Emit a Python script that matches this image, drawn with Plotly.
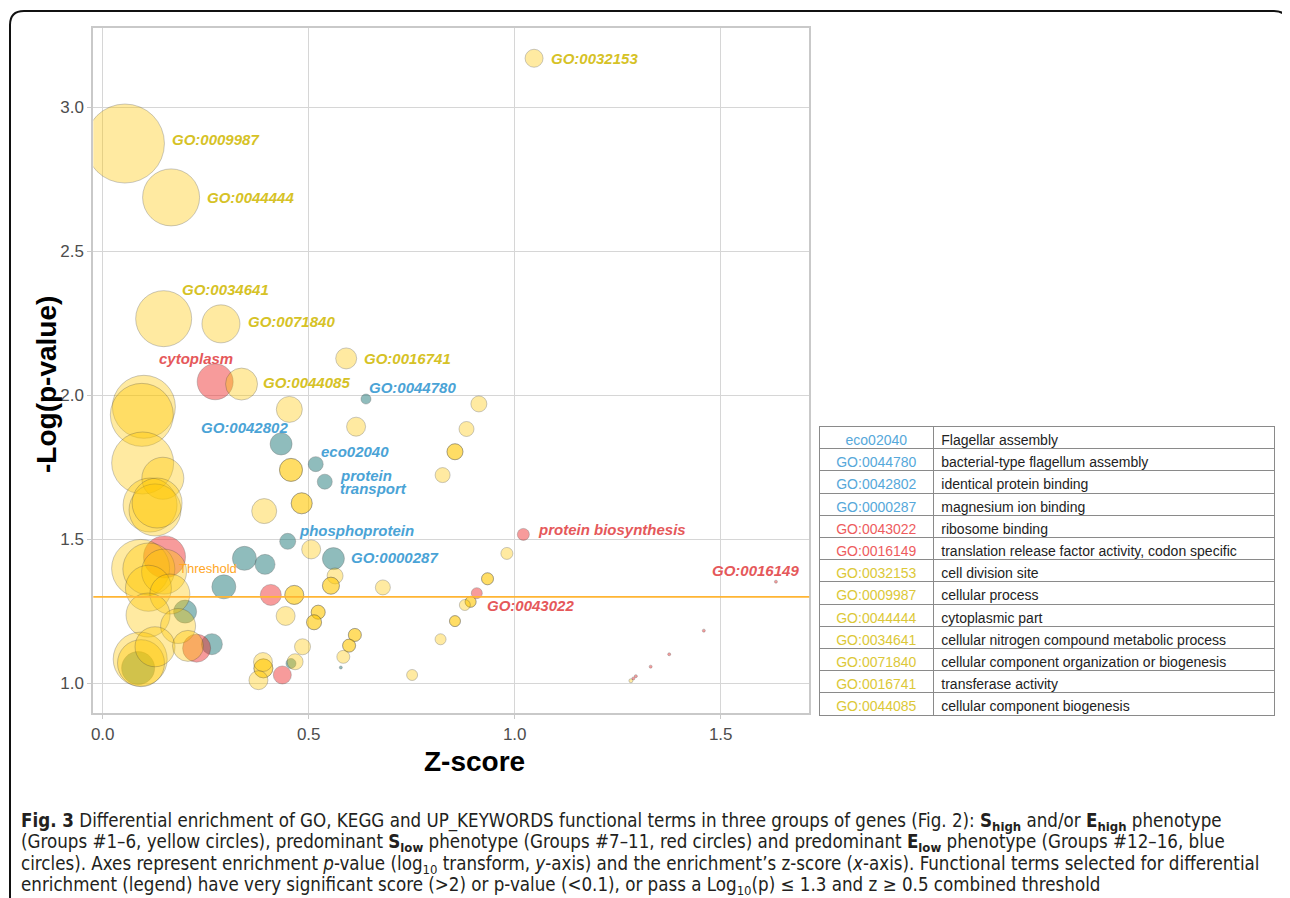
import plotly.graph_objects as go

# ---------------- data ----------------
# Yellow group (S_high and/or E_high phenotype, groups #1-6)
yellow_z = [1.047, 0.054, 0.166, 0.148, 0.287, 0.591, 0.337, 0.453, 0.615, 0.100,
            0.095, 0.097, 0.146, 0.115, 0.127, 0.132, 0.092, 0.112, 0.149, 0.111,
            0.163, 0.110, 0.183, 0.091, 0.093, 0.127, 0.207, 0.457, 0.457, 0.483,
            0.483, 0.392, 0.506, 0.564, 0.554, 0.554, 0.680, 0.465, 0.465, 0.444,
            0.523, 0.523, 0.513, 0.513, 0.485, 0.612, 0.612, 0.598, 0.598, 0.584,
            0.467, 0.390, 0.390, 0.389, 0.378, 0.751, 0.913, 0.883, 0.855, 0.855,
            0.825, 0.981, 0.934, 0.934, 0.893, 0.893, 0.879, 0.855, 0.855, 0.820,
            1.282]
yellow_logp = [3.170, 2.874, 2.687, 2.266, 2.248, 2.128, 2.039, 1.951, 1.891, 1.960,
               1.932, 1.765, 1.712, 1.619, 1.602, 1.626, 1.399, 1.397, 1.388, 1.330,
               1.310, 1.237, 1.199, 1.084, 1.070, 1.127, 1.130, 1.741, 1.741, 1.625,
               1.625, 1.598, 1.465, 1.373, 1.339, 1.339, 1.333, 1.307, 1.307, 1.234,
               1.247, 1.247, 1.212, 1.212, 1.127, 1.168, 1.168, 1.131, 1.131, 1.092,
               1.075, 1.052, 1.052, 1.074, 1.011, 1.029, 1.970, 1.883, 1.804, 1.804,
               1.723, 1.451, 1.363, 1.363, 1.283, 1.283, 1.272, 1.216, 1.216, 1.153,
               1.009]
yellow_size = [18, 79, 57, 56, 38, 21, 32, 26, 19, 63,
               63, 62, 42, 54, 52, 50, 58, 52, 45, 46,
               40, 44, 35, 54, 47, 40, 31, 23, 23, 21,
               21, 25, 19, 16, 17, 17, 15, 19, 19, 19,
               14, 14, 15, 15, 16, 13, 13, 13, 13, 13,
               16, 19, 19, 19, 19, 11, 16, 15, 16, 16,
               15, 12, 12, 12, 11, 11, 11, 11, 11, 11,
               4]

# Red group (predominant S_low phenotype, groups #7-11)
red_z = [0.273, 0.150, 0.228, 0.408, 0.436, 1.021, 0.908, 1.634, 1.459, 1.375, 1.330, 1.288, 1.294]
red_logp = [2.047, 1.439, 1.122, 1.307, 1.029, 1.517, 1.313, 1.353, 1.183, 1.101, 1.058, 1.017, 1.025]
red_size = [36, 42, 28, 21, 18, 12, 11, 3, 3, 3, 3, 3, 3]

# Blue group (predominant E_low phenotype, groups #12-16)
blue_z = [0.639, 0.433, 0.517, 0.539, 0.449, 0.560, 0.344, 0.394, 0.294, 0.200, 0.265, 0.086, 0.457, 0.578]
blue_logp = [1.987, 1.831, 1.761, 1.700, 1.493, 1.433, 1.434, 1.413, 1.335, 1.249, 1.136, 1.053, 1.069, 1.055]
blue_size = [10, 22, 15, 15, 16, 22, 24, 20, 24, 23, 21, 33, 10, 3]

threshold_logp = 1.3

x_ticks = [0.0, 0.5, 1.0, 1.5]
y_ticks = [1.0, 1.5, 2.0, 2.5, 3.0]

# point labels: (group, index, text)
label_points = [
    ("yellow", 0, "GO:0032153"), ("yellow", 1, "GO:0009987"), ("yellow", 2, "GO:0044444"),
    ("yellow", 3, "GO:0034641"), ("yellow", 4, "GO:0071840"), ("yellow", 5, "GO:0016741"),
    ("yellow", 6, "GO:0044085"), ("red", 0, "cytoplasm"), ("red", 5, "protein biosynthesis"),
    ("red", 6, "GO:0043022"), ("red", 7, "GO:0016149"), ("blue", 0, "GO:0044780"),
    ("blue", 1, "GO:0042802"), ("blue", 2, "eco02040"), ("blue", 3, "protein"),
    ("blue", 3, "transport"), ("blue", 4, "phosphoprotein"), ("blue", 5, "GO:0000287"),
]

# legend table
table_ids = ["eco02040", "GO:0044780", "GO:0042802", "GO:0000287", "GO:0043022", "GO:0016149",
             "GO:0032153", "GO:0009987", "GO:0044444", "GO:0034641", "GO:0071840", "GO:0016741",
             "GO:0044085"]
table_terms = ["Flagellar assembly", "bacterial-type flagellum assembly", "identical protein binding",
               "magnesium ion binding", "ribosome binding",
               "translation release factor activity, codon specific", "cell division site",
               "cellular process", "cytoplasmic part", "cellular nitrogen compound metabolic process",
               "cellular component organization or biogenesis", "transferase activity",
               "cellular component biogenesis"]
table_groups = ["blue", "blue", "blue", "blue", "red", "red", "yellow", "yellow", "yellow",
                "yellow", "yellow", "yellow", "yellow"]

caption_lines = [
    "<b>Fig. 3</b> Differential enrichment of GO, KEGG and UP_KEYWORDS functional terms in three groups of genes (Fig. 2): "
    "<b>S</b><sub><b>high</b></sub> and/or <b>E</b><sub><b>high</b></sub> phenotype",
    "(Groups #1–6, yellow circles), predominant <b>S</b><sub><b>low</b></sub> phenotype (Groups #7–11, red circles) "
    "and predominant <b>E</b><sub><b>low</b></sub> phenotype (Groups #12–16, blue",
    "circles). Axes represent enrichment <i>p</i>-value (log<sub>10</sub> transform, <i>y</i>-axis) and the "
    "enrichment’s z-score (<i>x</i>-axis). Functional terms selected for differential",
    "enrichment (legend) have very significant score (&gt;2) or p-value (&lt;0.1), or pass a "
    "Log<sub>10</sub>(p) ≤ 1.3 and z ≥ 0.5 combined threshold",
]

# ---------------- layout helpers ----------------
# the page adds an 8 px body margin, so the figure is 8 px smaller and all
# page-pixel positions are shifted by 8 px
OFF = 8
W, H = 1290 - OFF, 898 - OFF


def px(x):
    return (x - OFF) / W


def py(y):
    return 1 - (y - OFF) / H


FONT = "Liberation Sans, Arial, Helvetica, sans-serif"
fill = {"yellow": "rgba(255,200,0,0.52)", "red": "rgba(240,40,40,0.66)", "blue": "rgba(30,120,120,0.70)"}
text_col = {"yellow": "#D6C226", "red": "#E5585A", "blue": "#4AA3D6"}
table_col = {"yellow": "#DCC838", "red": "#EE5C5E", "blue": "#56A8DA"}
data = {"yellow": (yellow_z, yellow_logp, yellow_size),
        "red": (red_z, red_logp, red_size),
        "blue": (blue_z, blue_logp, blue_size)}

# label placement (pixel offsets from the point, anchor)
label_style = {
    "GO:0032153": (15, 0, "left"), "GO:0009987": (45, 4, "left"), "GO:0044444": (34, 0, "left"),
    "GO:0034641": (16, 29, "left"), "GO:0071840": (25, 2, "left"), "GO:0016741": (16, 0, "left"),
    "GO:0044085": (19, 2, "left"), "cytoplasm": (-19, 23, "center"),
    "protein biosynthesis": (13, 5, "left"), "GO:0043022": (8, -12, "left"),
    "GO:0016149": (25, 11, "right"), "GO:0044780": (1, 12, "left"), "GO:0042802": (9, 16, "right"),
    "eco02040": (3, 13, "left"), "protein": (13, 6.5, "left"), "transport": (13, -6.5, "left"),
    "phosphoprotein": (9, 11, "left"), "GO:0000287": (16, 1, "left"),
}

fig = go.Figure()
for g in ["blue", "red", "yellow"]:
    zx, ly, sz = data[g]
    fig.add_trace(go.Scatter(
        x=zx, y=ly, mode="markers", showlegend=False, hoverinfo="skip",
        marker=dict(size=sz, sizemode="diameter", sizeref=1, color=fill[g],
                    line=dict(color="rgba(60,60,60,0.38)", width=1)),
    ))

# threshold line
fig.add_shape(type="line", xref="x domain", yref="y", x0=0, x1=1,
              y0=threshold_logp, y1=threshold_logp,
              line=dict(color="#FFB533", width=1.6), layer="above")

annotations = []
for g, i, txt in label_points:
    dx, dy, anch = label_style[txt]
    annotations.append(dict(
        x=data[g][0][i], y=data[g][1][i], xref="x", yref="y", showarrow=False,
        text="<b><i>" + txt + "</i></b>", xanchor=anch, yanchor="middle",
        xshift=dx, yshift=dy, font=dict(family=FONT, size=15, color=text_col[g])))

annotations.append(dict(x=0.256, y=1.399, xref="x", yref="y", showarrow=False, text="Threshold",
                        xanchor="center", yanchor="middle",
                        font=dict(family=FONT, size=13, color="#FFA726")))

# axis titles
annotations.append(dict(x=px(46), y=py(385), xref="paper", yref="paper", showarrow=False,
                        text="<b>-Log(p-value)</b>", textangle=-90, xanchor="center", yanchor="middle",
                        font=dict(family=FONT, size=28, color="#000000")))
annotations.append(dict(x=px(474), y=py(761), xref="paper", yref="paper", showarrow=False,
                        text="<b>Z-score</b>", xanchor="center", yanchor="middle",
                        font=dict(family=FONT, size=28, color="#000000")))

# caption
cap_y = [821.5, 843, 864.5, 885.5]
for yy, line in zip(cap_y, caption_lines):
    annotations.append(dict(x=px(19), y=py(yy), xref="paper", yref="paper", showarrow=False,
                            text=line, xanchor="left", yanchor="middle", align="left",
                            font=dict(family="Liberation Sans Narrow, DejaVu Sans Condensed, Liberation Sans, sans-serif",
                                      size=18.6, color="#231F20")))

# legend table
fig.add_trace(go.Table(
    domain=dict(x=[px(819.3), px(1274.3)], y=[py(716.5), py(426.5)]),
    columnwidth=[114, 341],
    header=dict(values=[table_ids[0], table_terms[0]], height=22.2,
                align=["center", "left"], fill_color="white",
                line=dict(color="#8a8a8a", width=1),
                font=dict(family=FONT, size=14, color=[table_col[table_groups[0]], "#222222"])),
    cells=dict(values=[table_ids[1:], table_terms[1:]], height=22.2,
               align=["center", "left"], fill_color="white",
               line=dict(color="#8a8a8a", width=1),
               font=dict(family=FONT, size=14,
                         color=[[table_col[g] for g in table_groups[1:]],
                                ["#222222"] * (len(table_terms) - 1)])),
))

# rounded frame
x0, yt, x1 = px(10), py(11), px(1288)
rx, ry = 14 / W, 14 / H
frame_path = (f"M {x0},0 L {x0},{yt - ry} Q {x0},{yt} {x0 + rx},{yt} "
              f"L {x1 - rx},{yt} Q {x1},{yt} {x1},{yt - ry}")
fig.add_shape(type="path", xref="paper", yref="paper", path=frame_path,
              line=dict(color="#111111", width=2))

axis_common = dict(showgrid=True, gridcolor="#d6d6d6", gridwidth=1.3, zeroline=False,
                   showline=True, linecolor="#c9c9c9", linewidth=2, mirror=True,
                   ticks="outside", ticklen=4, tickcolor="#c9c9c9", tickwidth=1.3,
                   tickfont=dict(family=FONT, size=17, color="#4d4d4d"), automargin=False)

fig.update_layout(
    width=W, height=H, margin=dict(l=0, r=0, t=0, b=0),
    paper_bgcolor="white", plot_bgcolor="white", template="none",
    font=dict(family=FONT),
    xaxis=dict(domain=[px(93.3), px(809.3)], range=[-0.0228, 1.715],
               tickvals=x_ticks, ticktext=[f"{v:.1f}" for v in x_ticks], **axis_common),
    yaxis=dict(domain=[py(713.3), py(28.3)], range=[0.896, 3.274],
               tickvals=y_ticks, ticktext=[f"{v:.1f}" for v in y_ticks], **axis_common),
    annotations=annotations,
)

fig.write_html("out.html")
